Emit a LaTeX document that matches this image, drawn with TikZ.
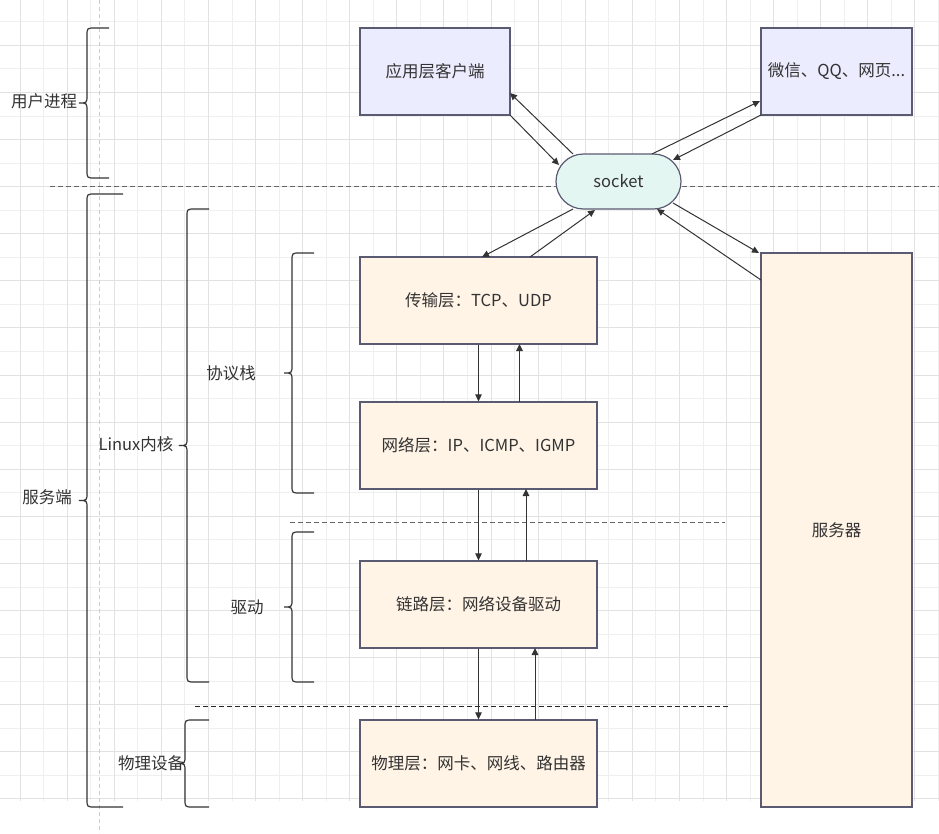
\documentclass[tikz,border=0pt]{standalone}
\usepackage{fontspec}
\setmainfont{Noto Sans CJK SC}
\usetikzlibrary{arrows.meta,calc}
\definecolor{gridgray}{HTML}{EFEFEF}
\definecolor{griddark}{HTML}{E2E2E2}
\definecolor{edgegray}{HTML}{5A5A72}
\definecolor{txtgray}{HTML}{333333}
\definecolor{lavender}{HTML}{ECECFF}
\definecolor{cream}{HTML}{FFF4E6}
\definecolor{mint}{HTML}{E4F6F1}
\tikzset{
  gridline/.style={draw=gridgray, line width=0.8pt},
  gridmajor/.style={draw=griddark, line width=0.9pt},
  pageline/.style={draw=black!20, line width=0.6pt, dash pattern=on 4pt off 3pt},
  sepline/.style={draw=black!60, line width=1pt, dash pattern=on 5pt off 3pt},
  box/.style={draw=edgegray, line width=1.2pt, text=txtgray, inner sep=0pt,
    font=\fontsize{16.5}{20}\selectfont},
  userbox/.style={box, fill=lavender, minimum width=150, minimum height=87},
  layerbox/.style={box, fill=cream, minimum width=237, minimum height=87},
  sockbox/.style={box, fill=mint, minimum width=125, minimum height=55, rounded corners=27.5},
  flow/.style={draw=txtgray, line width=1pt, -{Triangle[length=7pt,width=6.5pt]}},
  bracket/.style={draw=txtgray, line width=1.2pt},
  lbl/.style={text=txtgray, inner sep=0pt, font=\fontsize{16.5}{20}\selectfont}
}
\begin{document}
\begin{tikzpicture}[x=1pt,y=-1pt]
\useasboundingbox (0,0) rectangle (939,833);
\fill[white] (0,0) rectangle (939,833);
% background grid, every other line a bit darker
\foreach \k in {1,3,...,39} \draw[gridline] (20+23.55*\k,0) -- (20+23.55*\k,801);
\foreach \k in {0,2,...,32} \draw[gridline] (0,21.7+23.55*\k) -- (939,21.7+23.55*\k);
\foreach \k in {0,2,...,38} \draw[gridmajor] (20+23.55*\k,0) -- (20+23.55*\k,801);
\foreach \k in {1,3,...,33} \draw[gridmajor] (0,21.7+23.55*\k) -- (939,21.7+23.55*\k);
\draw[pageline] (99,0) -- (99,833);
% separators
\draw[sepline] (50,186) -- (939,186);
\draw[sepline] (290,522) -- (725,522);
\draw[sepline, draw=black!85] (195,706) -- (728,706);
% boxes
\node[userbox] (app) at (435,71.5) {应用层客户端};
\node[userbox, minimum width=151] (wechat) at (836.5,71.5) {微信、QQ、网页...};
\node[sockbox] (socket) at (618.5,181.5) {socket};
\node[layerbox] (trans) at (478.5,300.5) {传输层：TCP、UDP};
\node[layerbox] (net) at (478.5,445.5) {网络层：IP、ICMP、IGMP};
\node[layerbox] (link) at (478.5,604.5) {链路层：网络设备驱动};
\node[layerbox] (phy) at (478.5,763.5) {物理层：网卡、网线、路由器};
\node[layerbox, minimum width=151, minimum height=554] (server) at (836.5,530) {服务器};
% socket links
\draw[flow] ($(socket)+(-45.5,-27.5)$) -- ($(app)+(75,21.5)$);
\draw[flow] ($(app)+(75,43.5)$) -- ($(socket)+(-59.5,-16.5)$);
\draw[flow] ($(socket)+(33.5,-27.5)$) -- ($(wechat)+(-76.5,29.5)$);
\draw[flow] ($(wechat)+(-75.5,43.5)$) -- ($(socket)+(54.5,-21.5)$);
\draw[flow] ($(socket)+(-45.5,27.5)$) -- ($(trans)+(3.5,-43.5)$);
\draw[flow] ($(trans)+(51.5,-43.5)$) -- ($(socket)+(-23.5,28.5)$);
\draw[flow] ($(socket)+(54.5,21.5)$) -- ($(server)+(-77.5,-277)$);
\draw[flow] ($(server)+(-75.5,-250)$) -- ($(socket)+(38.5,27.5)$);
% layer links
\draw[flow] (trans.south) -- (net.north);
\draw[flow] ($(net)+(41,-43.5)$) -- ($(trans)+(41,43.5)$);
\draw[flow] (net.south) -- (link.north);
\draw[flow] ($(link)+(47.5,-43.5)$) -- ($(net)+(47.5,43.5)$);
\draw[flow] (link.south) -- (phy.north);
\draw[flow] ($(phy)+(56.5,-43.5)$) -- ($(link)+(56.5,43.5)$);
% braces
\foreach \xs/\xr/\yt/\yb in {87/109/28/178, 87/123/194/807, 187/209/209/682,
    292/314/253/493, 292/314/532/682, 185/209/720/807} {
  \pgfmathsetmacro\ym{(\yt+\yb)/2}
  \draw[bracket] (\xr,\yt) -- (\xs+8,\yt) .. controls (\xs,\yt) .. (\xs,\yt+8)
    -- (\xs,\ym-8) .. controls (\xs,\ym) .. (\xs-8,\ym) .. controls (\xs,\ym) .. (\xs,\ym+8)
    -- (\xs,\yb-8) .. controls (\xs,\yb) .. (\xs+8,\yb) -- (\xr,\yb);
}
\node[lbl] (luser) at (44,101) {用户进程};
\node[lbl] (lserv) at (47,497) {服务端};
\node[lbl] (lkernel) at (136,444) {Linux内核};
\node[lbl] (lstack) at (231,373) {协议栈};
\node[lbl] (ldriver) at (247,607) {驱动};
\node[lbl] (lphys) at (151,763) {物理设备};
\end{tikzpicture}
\end{document}
